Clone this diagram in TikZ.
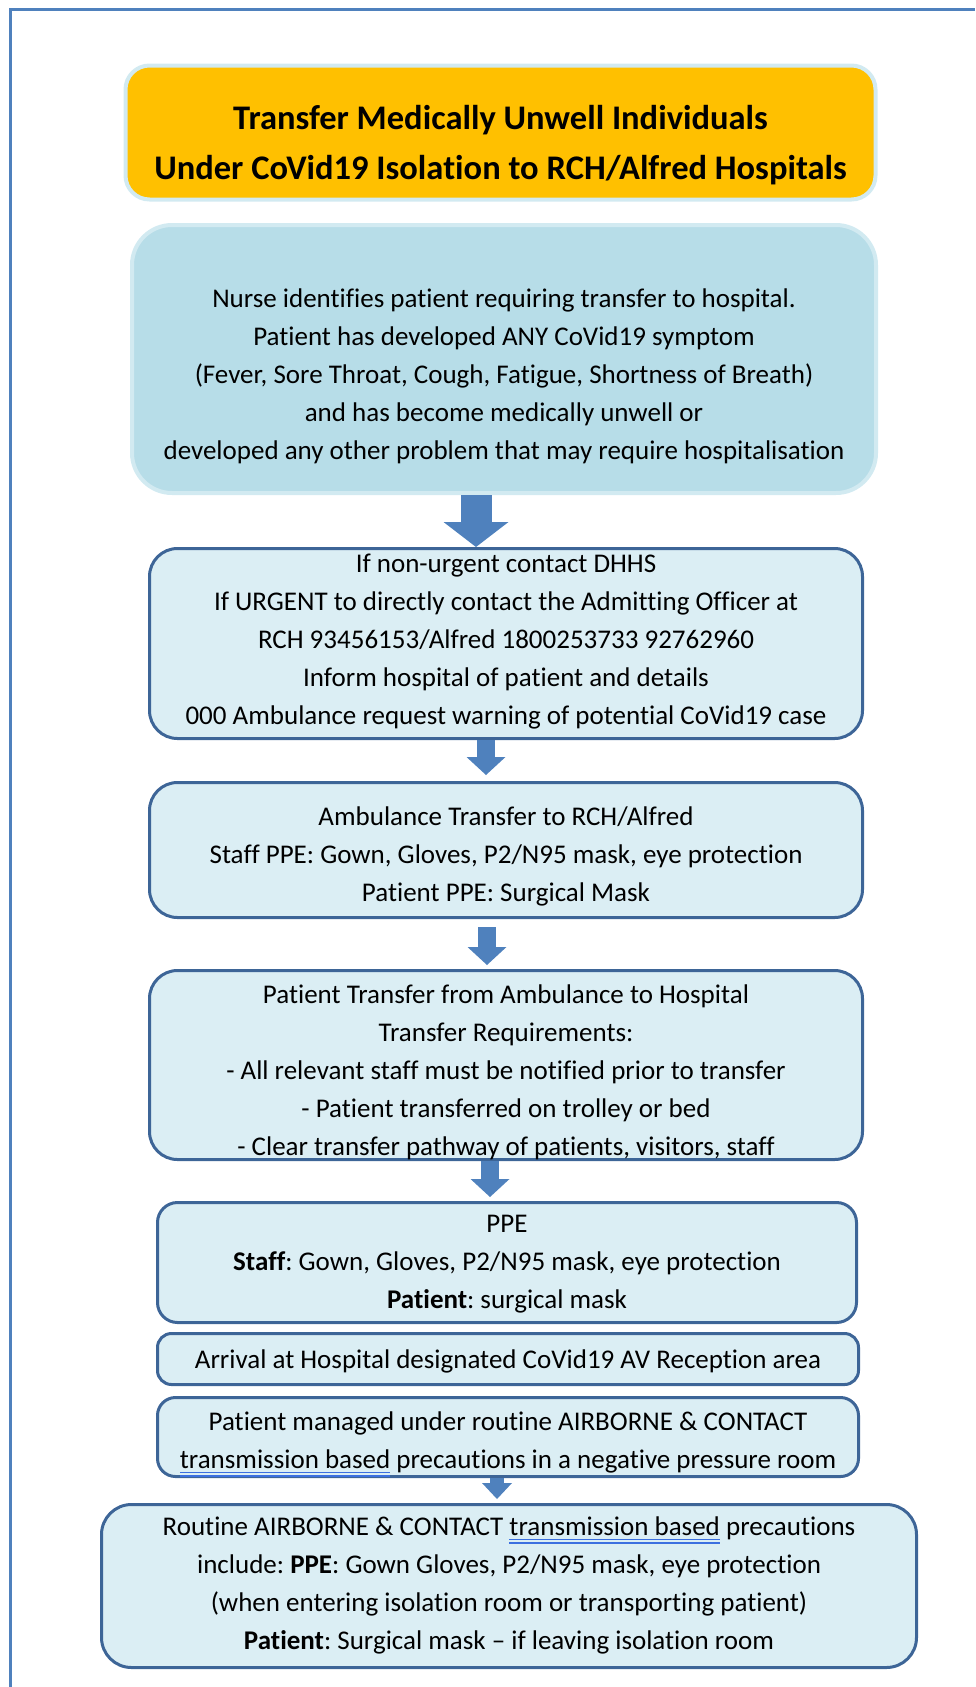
\documentclass[tikz,border=0pt]{standalone}
\usepackage{fontspec}
\setmainfont[Ligatures={TeX,NoCommon}]{Carlito}
\usepackage{xcolor}
\usepackage{tikz}
\usetikzlibrary{positioning, arrows.meta, shapes}
\frenchspacing

\definecolor{frameblue}{HTML}{4F81BD}
\definecolor{titleorange}{HTML}{FFC000}
\definecolor{glowblue}{HTML}{D2EAF1}
\definecolor{nursefill}{HTML}{B7DDE8}
\definecolor{boxfill}{HTML}{DBEEF4}
\definecolor{boxline}{HTML}{3D6597}
\definecolor{arrowblue}{HTML}{4F81BD}
\definecolor{gramblue}{HTML}{3B6FE0}

\newsavebox{\grambox}
\newcommand{\gramline}[1]{\sbox{\grambox}{#1}\rlap{\textcolor{gramblue}{\rule[-5pt]{\wd\grambox}{1.2pt}}}\rlap{\textcolor{gramblue}{\rule[-8.5pt]{\wd\grambox}{1.2pt}}}\usebox{\grambox}}

\tikzset{
  titlebox/.style={draw=glowblue, line width=4pt, fill=titleorange, rounded corners=24pt},
  nursebox/.style={draw=glowblue, line width=4pt, fill=nursefill, rounded corners=40pt},
  flowbox/.style={draw=boxline, line width=3pt, fill=boxfill, rounded corners=#1},
  flowbox/.default=28pt,
  boxtext/.style={align=center, inner sep=0pt, font=\fontsize{27pt}{38pt}\selectfont},
  titletext/.style={align=center, inner sep=0pt, font=\fontsize{34.5pt}{50pt}\selectfont\bfseries},
  flowarrow/.style n args={3}{draw=arrowblue, line width=#1, -{Triangle[width=#2, length=#3, line width=0pt]}}
}

\begin{document}
\begin{tikzpicture}[x=1pt, y=-1pt]
\useasboundingbox (0,0) rectangle (975,1687);

\draw[frameblue, line width=3pt] (10,1687) -- (10,9.5) -- (975,9.5);

\node [titlebox, minimum width=750pt, minimum height=134pt](title) at (500.5,132.5) {};
\node [titletext, yshift=-13pt](title text) at (title) {Transfer Medically Unwell Individuals\\ Under CoVid19 Isolation to RCH/Alfred Hospitals};

\node [nursebox, minimum width=744pt, minimum height=268pt](nurse) at (504,359) {};
\node [boxtext, yshift=-17pt](nurse text) at (nurse) {Nurse identifies patient requiring transfer to hospital.\\ Patient has developed ANY CoVid19 symptom\\ (Fever, Sore Throat, Cough, Fatigue, Shortness of Breath)\\ and has become medically unwell or\\ developed any other problem that may require hospitalisation};

\node [flowbox, minimum width=713pt, minimum height=190pt](contact) at (506,643.5) {};
\node [boxtext, yshift=2pt](contact text) at (contact) {If non-urgent contact DHHS\\ If URGENT to directly contact the Admitting Officer at\\ RCH 93456153/Alfred 1800253733 92762960\\ Inform hospital of patient and details\\ 000 Ambulance request warning of potential CoVid19 case};

\node [flowbox, minimum width=713pt, minimum height=135pt](ambulance) at (506,850) {};
\node [boxtext, yshift=-6pt](ambulance text) at (ambulance) {Ambulance Transfer to RCH/Alfred\\ Staff PPE: Gown, Gloves, P2/N95 mask, eye protection\\ Patient PPE: Surgical Mask};

\node [flowbox, minimum width=713pt, minimum height=189pt](transfer) at (506,1065) {};
\node [boxtext, yshift=-7pt](transfer text) at (transfer) {Patient Transfer from Ambulance to Hospital\\ Transfer Requirements:\\ - All relevant staff must be notified prior to transfer\\ - Patient transferred on trolley or bed\\ - Clear transfer pathway of patients, visitors, staff};

\node [flowbox=20pt, minimum width=699pt, minimum height=120pt](ppe) at (507,1262.5) {};
\node [boxtext, yshift=-2pt](ppe text) at (ppe) {PPE\\ \textbf{Staff}: Gown, Gloves, P2/N95 mask, eye protection\\ \textbf{Patient}: surgical mask};

\node [flowbox=14pt, minimum width=701pt, minimum height=51pt](arrival) at (508,1359) {};
\node [boxtext, yshift=-2pt](arrival text) at (arrival) {Arrival at Hospital designated CoVid19 AV Reception area};

\node [flowbox=18pt, minimum width=701pt, minimum height=79pt](managed) at (508,1437) {};
\node [boxtext, yshift=-7pt](managed text) at (managed) {Patient managed under routine AIRBORNE \& CONTACT\\ \gramline{transmission based} precautions in a negative pressure room};

\node [flowbox=30pt, minimum width=815pt, minimum height=163pt](routine) at (509,1586) {};
\node [boxtext, yshift=1pt](routine text) at (routine) {Routine AIRBORNE \& CONTACT \gramline{transmission based} precautions\\ include: \textbf{PPE}: Gown Gloves, P2/N95 mask, eye protection\\ (when entering isolation room or transporting patient)\\ \textbf{Patient}: Surgical mask – if leaving isolation room};

\draw [flowarrow={31pt}{65pt}{25pt}] ([xshift=-28pt]nurse.south) -- ([xshift=-30pt]contact.north);
\draw [flowarrow={18pt}{39pt}{18pt}, shorten >=6pt] ([xshift=-20pt]contact.south) -- ([xshift=-20pt]ambulance.north);
\draw [flowarrow={18pt}{39pt}{18pt}, shorten <=8pt, shorten >=4pt] ([xshift=-19pt]ambulance.south) -- ([xshift=-19pt]transfer.north);
\draw [flowarrow={18pt}{39pt}{18pt}, shorten >=4pt] ([xshift=-16pt]transfer.south) -- ([xshift=-17pt]ppe.north);
\draw [flowarrow={14pt}{30pt}{16pt}, shorten >=4pt] ([xshift=-11pt]managed.south) -- ([xshift=-12pt]routine.north);
\end{tikzpicture}
\end{document}
